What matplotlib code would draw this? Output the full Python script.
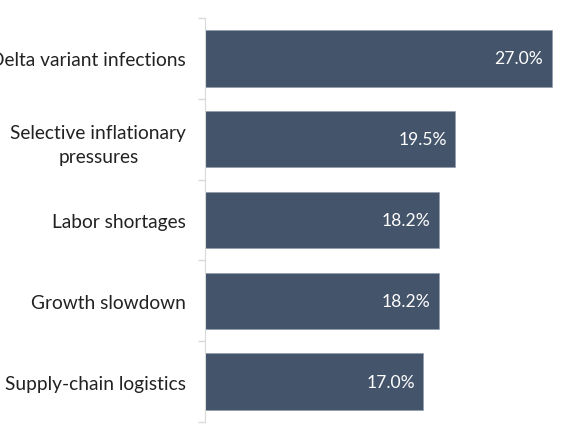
import matplotlib.pyplot as plt
import numpy as np

categories = ["Delta variant infections", "Selective inflationary\npressures",
              "Labor shortages", "Growth slowdown", "Supply-chain logistics"]
values = [27.0, 19.5, 18.2, 18.2, 17.0]

plt.rcParams['font.family'] = ['Lato', 'DejaVu Sans']

fig = plt.figure(figsize=(5.8, 4.35), dpi=100)
ax = fig.add_axes([205 / 580, 12 / 435, 371 / 580, 404 / 435])

y = np.arange(len(categories))
bars = ax.barh(y, values, height=0.7, color="#44546a", edgecolor="#8a97aa", linewidth=0.4)

for b, v in zip(bars, values):
    ax.text(b.get_width() - 0.65, b.get_y() + b.get_height() / 2, f"{v:.1f}%",
            ha="right", va="center", color="white", fontsize=12.6)

ax.set_ylim(len(categories) - 0.5, -0.5)
ax.set_xlim(0, 28.9)
ax.set_yticks(y)
ax.set_yticklabels(categories, fontsize=13.8, multialignment="center", linespacing=1.5)
ax.tick_params(axis="y", which="major", length=0, pad=13.5, colors="#222222")
ax.set_yticks(np.arange(-0.5, len(categories)), minor=True)
ax.tick_params(axis="y", which="minor", length=5, color="#d9d9d9", width=1)
ax.set_xticks([])

for s in ["top", "right", "bottom"]:
    ax.spines[s].set_visible(False)
ax.spines["left"].set_color("#d9d9d9")

fig.savefig("out.png", dpi=100)
